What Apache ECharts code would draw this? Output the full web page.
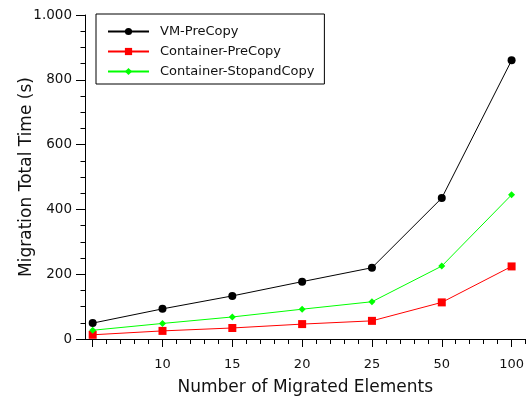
<!DOCTYPE html>
<html><head><meta charset="utf-8">
<script src="https://cdn.jsdelivr.net/npm/echarts@6/dist/echarts.min.js"></script>
<style>html,body{margin:0;padding:0;background:#fff}#c{width:527px;height:401px}</style>
</head><body><div id="c"></div>
<script>
// Data
var categories = ['5', '10', '15', '20', '25', '50', '100'];
var tickLabels = ['', '10', '15', '20', '25', '50', '100'];
var vmPreCopy = [49, 93, 133, 177, 220, 435, 860];
var containerPreCopy = [13, 25, 34, 46, 56, 113, 224];
var containerStopCopy = [27, 48, 68, 92, 115, 225, 445];
var yTickValues = [0, 200, 400, 600, 800, 1000];

var FONT = 'DejaVu Sans';
function pts(arr) { return arr.map(function (v, i) { return [i + 1, v]; }); }
var majorPos = categories.map(function (c, i) { return i + 1; });
var minorPos = [];
for (var p = 1; p <= 7.2001; p += 0.2) minorPos.push(Math.round(p * 10) / 10);
var labelPos = majorPos.filter(function (p, i) { return tickLabels[i] !== ''; });

var chart = echarts.init(document.getElementById('c'));
var XMIN = 0.89, XMAX = 7.2;
chart.setOption({
  animation: false,
  grid: { left: 85, right: 0, top: 15, bottom: 60, containLabel: false },
  legend: {
    orient: 'vertical', left: 96, top: 14,
    backgroundColor: '#fff', borderColor: '#000', borderWidth: 1, borderRadius: 0,
    padding: [11, 10, 6, 11],
    itemWidth: 41, itemHeight: 9, itemGap: 7,
    textStyle: { fontFamily: FONT, fontSize: 13, color: '#111', padding: [0, 0, 0, 6] },
    data: ['VM-PreCopy', 'Container-PreCopy', 'Container-StopandCopy']
  },
  xAxis: [{
    type: 'value', min: XMIN, max: XMAX,
    name: 'Number of Migrated Elements', nameLocation: 'middle', nameGap: 40,
    nameMoveOverlap: false,
    nameTextStyle: { fontFamily: FONT, fontSize: 17, color: '#111' },
    axisLine: { show: true, onZero: false, lineStyle: { color: '#000', width: 1 } },
    axisTick: { show: true, length: 5, customValues: minorPos, lineStyle: { color: '#000' } },
    axisLabel: { show: false },
    splitLine: { show: false }
  }, {
    type: 'value', min: XMIN, max: XMAX, position: 'bottom',
    axisLine: { show: false },
    axisTick: { show: true, length: 8, customValues: majorPos, lineStyle: { color: '#000' } },
    axisLabel: {
      show: true, margin: 19, customValues: labelPos,
      fontFamily: FONT, fontSize: 13, color: '#111',
      formatter: function (v) { return tickLabels[Math.round(v) - 1]; }
    },
    splitLine: { show: false }
  }],
  yAxis: {
    type: 'value', min: 0, max: 1000, interval: 200,
    name: 'Migration Total Time (s)', nameLocation: 'middle', nameGap: 50,
    nameMoveOverlap: false,
    nameTextStyle: { fontFamily: FONT, fontSize: 17, color: '#111' },
    axisLine: { show: true, lineStyle: { color: '#000', width: 1 } },
    axisTick: { show: true, length: 9, lineStyle: { color: '#000' } },
    minorTick: { show: true, splitNumber: 4, length: 4.5, lineStyle: { color: '#000' } },
    axisLabel: {
      margin: 13, fontFamily: FONT, fontSize: 13.5, color: '#111',
      formatter: function (v) { return v === 1000 ? '1.000' : String(v); }
    },
    splitLine: { show: false }
  },
  series: [{
    name: 'VM-PreCopy', type: 'line', data: pts(vmPreCopy),
    symbol: 'circle', symbolSize: 8,
    lineStyle: { color: '#000', width: 1 }, itemStyle: { color: '#000' }
  }, {
    name: 'Container-PreCopy', type: 'line', data: pts(containerPreCopy),
    symbol: 'rect', symbolSize: 8,
    lineStyle: { color: '#ff0000', width: 1 }, itemStyle: { color: '#ff0000' }
  }, {
    name: 'Container-StopandCopy', type: 'line', data: pts(containerStopCopy),
    symbol: 'diamond', symbolSize: 7,
    lineStyle: { color: '#00ff00', width: 1 }, itemStyle: { color: '#00ff00' }
  }]
});
</script></body></html>
